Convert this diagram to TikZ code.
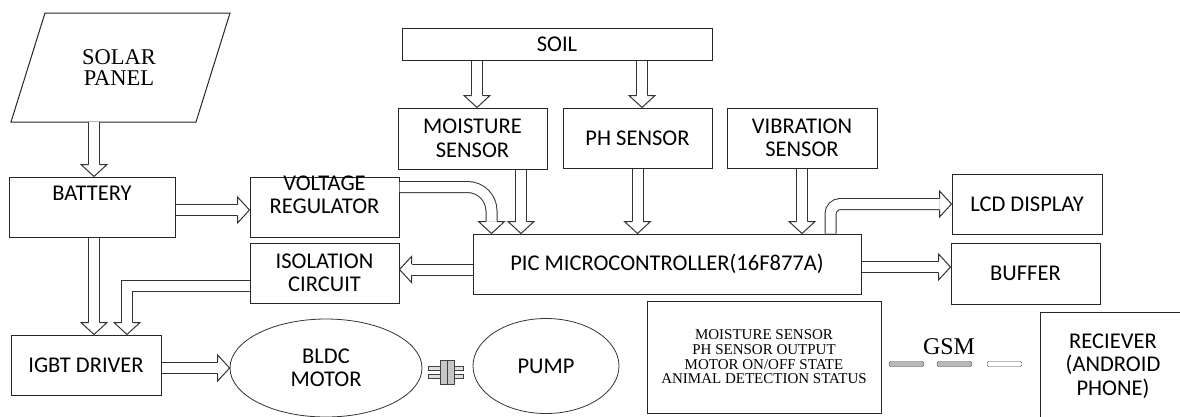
\documentclass[tikz,border=0pt]{standalone}
\usepackage{fontspec}
\setmainfont{Liberation Serif}
\newfontfamily\boxfamily{Carlito}
\newcommand*{\boxfont}{\boxfamily\fontsize{22.5}{23.5}\selectfont}
\newcommand*{\bigserif}{\fontsize{22.5}{21.5}\selectfont}
\newcommand*{\smallserif}{\fontsize{15}{14.7}\selectfont}
\usetikzlibrary{calc,shapes.geometric}
\tikzset{
  box/.style={draw=black!85,line width=1pt,minimum width=149pt,minimum height=60pt,
    inner sep=0pt,align=center,font=\boxfont},
  oval/.style={ellipse,draw=black!80,line width=0.8pt,inner sep=0pt,align=center,font=\boxfont},
  shaft/.style={draw=black!80,line width=1pt,double=white,double distance=10pt,shorten >=12pt},
  headline/.style={draw=black!80,fill=white,line width=1pt},
}
% open head of a hollow arrow, tip at #1, pointing at angle #2
\newcommand*{\fathead}[2]{%
  \begin{scope}[shift={(#1)},rotate=#2]
    \draw[headline] (-12,5.5) -- (-12,13) -- (0,0) -- (-12,-13) -- (-12,-5.5);
  \end{scope}}

\begin{document}
\begin{tikzpicture}[x=1pt,y=-1pt]
    \fill[white] (0,0) rectangle (1180,416);
    \useasboundingbox (0,0) rectangle (1180,416);
    % power side
    \node[align=center,font=\bigserif] (solar) at (119,67.5) {SOLAR\\PANEL};
    \draw[black!85,line width=1pt] ([shift={(-108,54.5)}]solar.center) -- ++(185,0) -- ++(34,-109) -- ++(-185,0) -- cycle;
    \coordinate (solarbase) at ([yshift=-54.5pt]solar.center);
    \node[box,minimum width=166pt,label={[font=\boxfont,anchor=north,yshift=-6.5pt]north:BATTERY}] (bat) at (92,207) {};
    \node[box,label={[font=\boxfont,align=center,anchor=north,yshift=4.5pt]north:VOLTAGE\\REGULATOR}] (vr) at (324.5,207) {};
    \node[box] (iso) at (324.5,273) {ISOLATION\\CIRCUIT};
    \node[box,minimum width=150pt] (igbt) at (86,365) {IGBT DRIVER};
    \node[oval,minimum width=192pt,minimum height=98pt] (bldc) at (326,368) {BLDC\\MOTOR};
    \node[oval,minimum width=146pt,minimum height=95pt] (pump) at (546,366) {PUMP};
    % sensors and controller
    \node[box,minimum width=310pt,minimum height=32pt] (soil) at (557,44) {SOIL};
    \node[box,minimum height=61pt] (moist) at (472.5,138.5) {MOISTURE\\SENSOR};
    \node[box] (ph) at (637.5,138) {PH SENSOR};
    \node[box,minimum width=150pt] (vib) at (802,138) {VIBRATION\\SENSOR};
    \node[box,minimum width=388pt] (pic) at (667,264) {PIC MICROCONTROLLER(16F877A)};
    \node[box,minimum width=150pt] (lcd) at (1027,204) {LCD DISPLAY};
    \node[box,minimum height=61pt] (buffer) at (1025.5,273.5) {BUFFER};
    % messages
    \node[box,minimum width=234pt,minimum height=112pt,font=\smallserif] (status) at (764,357)
      {MOISTURE SENSOR\\PH SENSOR OUTPUT\\MOTOR ON/OFF STATE\\ANIMAL DETECTION STATUS};
    \node[font=\fontsize{24}{24}\selectfont] (gsm) at (949,347) {GSM};
    \node[box,minimum width=146pt,minimum height=108pt] (recv) at (1113,366) {RECIEVER\\(ANDROID\\PHONE)};
    \foreach \dx/\fc in {-60/gray!55,-12/gray!55,38/white}
      \draw[black!75,fill=\fc,rounded corners=2pt] ($(gsm.center)+(\dx,14.5)$) rectangle ++(35,5);
    % coupling
    \begin{scope}[shift={(446,372)},black!75,line width=0.6pt]
      \draw[fill=gray!25] (-18,-6) rectangle (17,-2);
      \draw[fill=gray!25] (-18,2) rectangle (17,6);
      \draw[fill=gray!45] (-6,-12) rectangle (1,12);
      \draw[fill=gray!45] (1,-12) rectangle (8,12);
    \end{scope}
    % arrows
    \coordinate (batin) at ([xshift=2pt]bat.north);
    \coordinate (vrin) at ([yshift=-3pt]vr.west);
    \coordinate (igbtin) at ([xshift=8pt]igbt.north);
    \coordinate (igbtin2) at ([xshift=41pt]igbt.north);
    \coordinate (isoin) at ([yshift=3.5pt]iso.east);
    \coordinate (moistin) at ([xshift=4.5pt]moist.north);
    \coordinate (phin) at ([xshift=4.5pt]ph.north);
    \coordinate (picin1) at ([xshift=19pt]pic.north west);
    \coordinate (picin2) at ([xshift=48.5pt]moist.south |- pic.north);
    \coordinate (picin3) at (ph.south |- pic.north);
    \coordinate (picin4) at (vib.south |- pic.north);
    \coordinate (bufin) at ([yshift=-3pt]pic.east -| buffer.west);
    \draw[shaft] (batin |- solarbase) -- (batin);
    \draw[shaft] (bat.east |- vrin) -- (vrin);
    \draw[shaft] (igbtin |- bat.south) -- (igbtin);
    \draw[shaft] ([yshift=-13pt]iso.west) -| (igbtin2);
    \draw[shaft] (pic.west |- isoin) -- (isoin);
    \draw[shaft] (igbt.east |- bldc.west) -- (bldc.west);
    \draw[shaft,rounded corners=24pt] ([yshift=20pt]vr.east) -| (picin1);
    \draw[shaft] (moistin |- soil.south) -- (moistin);
    \draw[shaft] (phin |- soil.south) -- (phin);
    \draw[shaft] ([xshift=48.5pt]moist.south) -- (picin2);
    \draw[shaft] (ph.south) -- (picin3);
    \draw[shaft] (vib.south) -- (picin4);
    \draw[shaft,rounded corners=10pt] ([xshift=163.5pt]pic.north) |- (lcd.west);
    \draw[shaft] (pic.east |- bufin) -- (bufin);
    \foreach \p/\a in {batin/-90,vrin/0,igbtin/-90,igbtin2/-90,isoin/180,bldc.west/0,picin1/-90,
      moistin/-90,phin/-90,picin2/-90,picin3/-90,picin4/-90,lcd.west/0,bufin/0}
      \fathead{\p}{\a};
\end{tikzpicture}
\end{document}
